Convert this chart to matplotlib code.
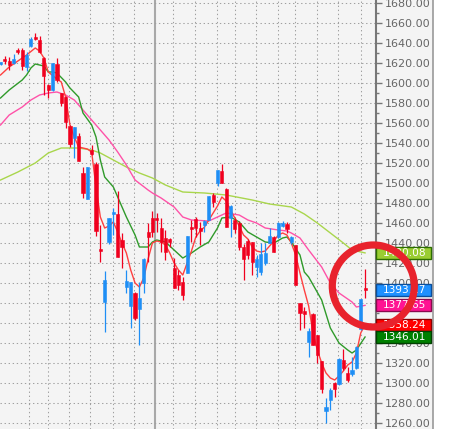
import matplotlib
matplotlib.use('Agg')
from matplotlib import pyplot as plt
from matplotlib.patches import Rectangle, Ellipse
import matplotlib.transforms as mtransforms

# daily candles (open, high, low, close), oldest first
opens = [1619, 1624, 1622, 1620, 1633, 1633, 1616, 1637, 1646, 1643,
         1625, 1598, 1593, 1619, 1590, 1586, 1557, 1545, 1547, 1510,
         1484, 1533, 1519, 1434, 1381, 1441, 1469, 1469, 1443, 1396,
         1377, 1390, 1374, 1400, 1451, 1465, 1465, 1455, 1445, 1444,
         1415, 1408, 1401, 1410, 1455, 1464, 1455, 1458, 1463, 1488,
         1500, 1512, 1494, 1465, 1463, 1460, 1436, 1442, 1441, 1416,
         1411, 1420, 1440, 1446, 1446, 1457, 1459, 1441, 1438, 1380,
         1372, 1341, 1369, 1348, 1322, 1272, 1283, 1300, 1299, 1323,
         1310, 1309, 1315, 1354, 1395]
highs = [1621, 1627, 1626, 1629, 1635, 1635, 1631, 1646, 1650, 1647,
         1626, 1599, 1620, 1625, 1590, 1587, 1558, 1556, 1550, 1516,
         1516, 1538, 1521, 1458, 1412, 1465, 1475, 1492, 1450, 1413,
         1401, 1391, 1401, 1425, 1460, 1472, 1470, 1465, 1453, 1445,
         1425, 1413, 1406, 1447, 1463, 1466, 1461, 1463, 1487, 1490,
         1513, 1519, 1495, 1478, 1465, 1462, 1439, 1444, 1441, 1428,
         1440, 1440, 1455, 1447, 1461, 1462, 1461, 1447, 1438, 1380,
         1376, 1355, 1370, 1348, 1322, 1285, 1295, 1301, 1325, 1334,
         1316, 1326, 1337, 1384, 1414]
lows = [1618, 1619, 1613, 1619, 1629, 1613, 1612, 1636, 1643, 1630,
        1588, 1585, 1592, 1601, 1577, 1555, 1536, 1525, 1522, 1485,
        1484, 1528, 1447, 1421, 1351, 1439, 1448, 1426, 1415, 1390,
        1355, 1363, 1338, 1390, 1421, 1446, 1451, 1431, 1423, 1436,
        1395, 1393, 1383, 1410, 1441, 1446, 1438, 1451, 1463, 1476,
        1497, 1500, 1456, 1446, 1450, 1433, 1403, 1424, 1408, 1406,
        1408, 1418, 1440, 1431, 1445, 1456, 1450, 1439, 1398, 1353,
        1355, 1326, 1338, 1320, 1290, 1260, 1273, 1286, 1298, 1313,
        1301, 1307, 1314, 1353, 1385]
closes = [1621, 1622, 1618, 1624, 1631, 1617, 1628, 1644, 1644, 1631,
          1607, 1593, 1620, 1603, 1580, 1561, 1539, 1556, 1522, 1490,
          1516, 1529, 1452, 1432, 1403, 1465, 1471, 1426, 1436, 1402,
          1401, 1365, 1385, 1424, 1446, 1451, 1463, 1441, 1431, 1441,
          1395, 1398, 1388, 1447, 1454, 1455, 1452, 1462, 1487, 1481,
          1513, 1500, 1456, 1477, 1454, 1436, 1424, 1428, 1421, 1424,
          1429, 1430, 1447, 1431, 1460, 1460, 1454, 1446, 1398, 1370,
          1369, 1352, 1338, 1328, 1294, 1276, 1293, 1294, 1324, 1315,
          1303, 1313, 1336, 1384, 1393.17]

# moving averages: (bar index, value)
ma_short = [(0, 1608), (2, 1616), (4, 1622), (6, 1628), (8, 1635), (9, 1632),
            (10, 1625), (11, 1611), (13, 1604), (14, 1601), (15, 1586),
            (16, 1558), (17, 1546), (18, 1536), (20, 1534), (21, 1531),
            (22, 1496), (23, 1466), (24, 1455), (25, 1457), (26, 1461),
            (27, 1451), (28, 1440), (29, 1430), (30, 1413), (31, 1400),
            (32, 1396), (33, 1405), (34, 1424), (35, 1440), (36, 1442),
            (37, 1441), (38, 1438), (39, 1430), (40, 1420), (41, 1413),
            (42, 1408), (43, 1420), (44, 1432), (45, 1446), (46, 1452),
            (47, 1456), (48, 1463), (49, 1470), (50, 1477), (51, 1486),
            (52, 1482), (53, 1473), (54, 1465), (55, 1457), (56, 1448),
            (57, 1444), (58, 1436), (59, 1432), (60, 1431), (61, 1432),
            (62, 1437), (63, 1442), (64, 1448), (65, 1450), (66, 1448),
            (67, 1440), (68, 1428), (69, 1410), (70, 1393), (71, 1377),
            (72, 1350), (73, 1333), (74, 1320), (75, 1310), (76, 1305),
            (77, 1303), (78, 1307), (79, 1312), (80, 1318), (81, 1321),
            (82, 1330), (83, 1350), (84, 1358.24)]
ma_mid = [(0, 1585), (2, 1593), (5, 1603), (6, 1608), (7, 1615), (8, 1619),
          (10, 1617), (11, 1611), (12, 1611), (13, 1610), (15, 1601),
          (16, 1595), (18, 1586), (19, 1570), (21, 1558), (22, 1546),
          (23, 1523), (24, 1506), (26, 1496), (27, 1486), (29, 1466),
          (31, 1448), (32, 1436), (34, 1436), (35, 1441), (36, 1443),
          (38, 1441), (40, 1433), (42, 1425), (44, 1430), (46, 1436),
          (48, 1441), (50, 1455), (51, 1465), (53, 1466), (55, 1461),
          (56, 1456), (57, 1451), (59, 1446), (61, 1441), (63, 1440),
          (65, 1445), (66, 1446), (67, 1441), (69, 1428), (70, 1411),
          (71, 1406), (74, 1383), (76, 1355), (78, 1340), (80, 1333),
          (81, 1330), (82, 1333), (84, 1346.01)]
ma_pink = [(0, 1558), (2, 1568), (5, 1576), (7, 1583), (9, 1588), (11, 1590),
           (13, 1591), (15, 1588), (17, 1583), (19, 1573), (21, 1563),
           (23, 1553), (25, 1543), (27, 1531), (29, 1518), (31, 1503),
           (34, 1493), (35, 1490), (37, 1485), (40, 1476), (42, 1466),
           (44, 1463), (48, 1462), (50, 1466), (52, 1470), (55, 1468),
           (57, 1463), (59, 1460), (61, 1455), (64, 1453), (66, 1452),
           (67, 1450), (69, 1445), (71, 1433), (74, 1416), (76, 1400),
           (78, 1390), (81, 1381), (82, 1376), (84, 1377.65)]
ma_long = [(0, 1503), (4, 1511), (8, 1520), (11, 1530), (14, 1535), (18, 1535),
           (21, 1533), (23, 1530), (26, 1523), (29, 1516), (32, 1510),
           (35, 1505), (38, 1498), (42, 1491), (47, 1490), (52, 1488),
           (58, 1483), (62, 1479), (67, 1476), (70, 1469), (73, 1460),
           (76, 1450), (79, 1440), (81, 1433), (84, 1430.08)]

# vertical separators (bar index units); the solid one is the month break
week_lines = [6.6, 10.9, 15.8, 20.6, 25.9, 30.8, 39.7, 44.8, 49.9, 54,
              58.9, 63.9, 67.9, 72.9, 77.8, 83.1]
month_line = 35.6

bg = '#f4f4f4'
red = '#f0001e'
blue = '#1e8ef5'

fig = plt.figure(figsize=(4.7, 4.29), dpi=100)
fig.patch.set_facecolor('white')
fig.add_artist(Rectangle((376 / 470, 0), (433 - 376) / 470, 1,
                         transform=fig.transFigure, fc=bg, ec='none', zorder=-2))
fig.add_artist(plt.Line2D([433 / 470, 433 / 470], [0, 1], transform=fig.transFigure,
                          color='#999999', lw=1.2, zorder=-1))

ax = fig.add_axes([0, 0, 376 / 470, 1])
ax.set_facecolor(bg)

# grid
for x in week_lines:
    ax.axvline(x, color='#a0a0a0', lw=0.75, ls=(0, (1.3, 2.6)), zorder=0)
ax.axvline(month_line, color='#a8a8a8', lw=1.5, zorder=0)
for p in range(1260, 1681, 20):
    ax.axhline(p, color='#a0a0a0', lw=0.75, ls=(0, (1.3, 2.6)), zorder=0)

# moving averages
for pts, col in [(ma_long, '#a9d64c'), (ma_pink, '#ff52a8'),
                 (ma_mid, '#2f9a2a'), (ma_short, '#ff4040')]:
    xs = [p[0] for p in pts]
    ys = [p[1] for p in pts]
    ax.plot(xs, ys, color=col, lw=1.0, zorder=2)

# candles
idx = list(range(len(opens)))
for i in idx:
    o, h, l, c = opens[i], highs[i], lows[i], closes[i]
    col = blue if c >= o else red
    ax.vlines(i, l, h, color=col, lw=0.9, zorder=3)
    body = max(abs(c - o), 1.8)
    ax.bar(i, body, bottom=min(o, c), width=0.72, color=col,
           edgecolor=col, lw=0.4, zorder=4)

ax.set_xlim(-0.12, 86.52)
ax.set_ylim(1254, 1683)

ax.set_xticks([])
ax.yaxis.tick_right()
ax.set_yticks(range(1260, 1681, 20))
ax.set_yticks(range(1270, 1681, 20), minor=True)
ax.set_yticklabels(['%.2f' % v for v in range(1260, 1681, 20)])
ax.tick_params(axis='y', which='major', length=4, width=1, color='#777777',
               labelcolor='#666666', labelsize=8, pad=2)
ax.tick_params(axis='y', which='minor', length=2.5, width=1, color='#777777')
for s in ['left', 'top', 'bottom']:
    ax.spines[s].set_visible(False)
ax.spines['right'].set_color('#777777')
ax.spines['right'].set_linewidth(1.5)

# value tags on the price scale
tags = [(ma_long[-1][1], '#9acd32', '#2d6e00'),
        (closes[-1], '#1e90ff', '#0b4f9c'),
        (ma_pink[-1][1], '#ff1493', '#8a0a4e'),
        (ma_short[-1][1], '#ff0000', '#8a0000'),
        (ma_mid[-1][1], '#008000', '#004000')]
trans = mtransforms.blended_transform_factory(ax.transAxes, ax.transData)
for v, fc, ec in tags:
    ax.add_patch(Rectangle((1.0, v - 6.0), 55 / 376, 12.0, transform=trans,
                           fc=fc, ec=ec, lw=1, clip_on=False, zorder=6))
    ax.text(1.0 + 7 / 376, v, '%.2f' % v, transform=trans, color='white',
            fontsize=7.6, va='center', ha='left', clip_on=False, zorder=7)

# red marker circle
ax.add_patch(Ellipse((85.9, 1397), 18.9, 82, fill=False, ec='#e8222c',
                     lw=5.2, clip_on=False, zorder=10))

plt.savefig('out.png', dpi=100, facecolor=fig.get_facecolor())
